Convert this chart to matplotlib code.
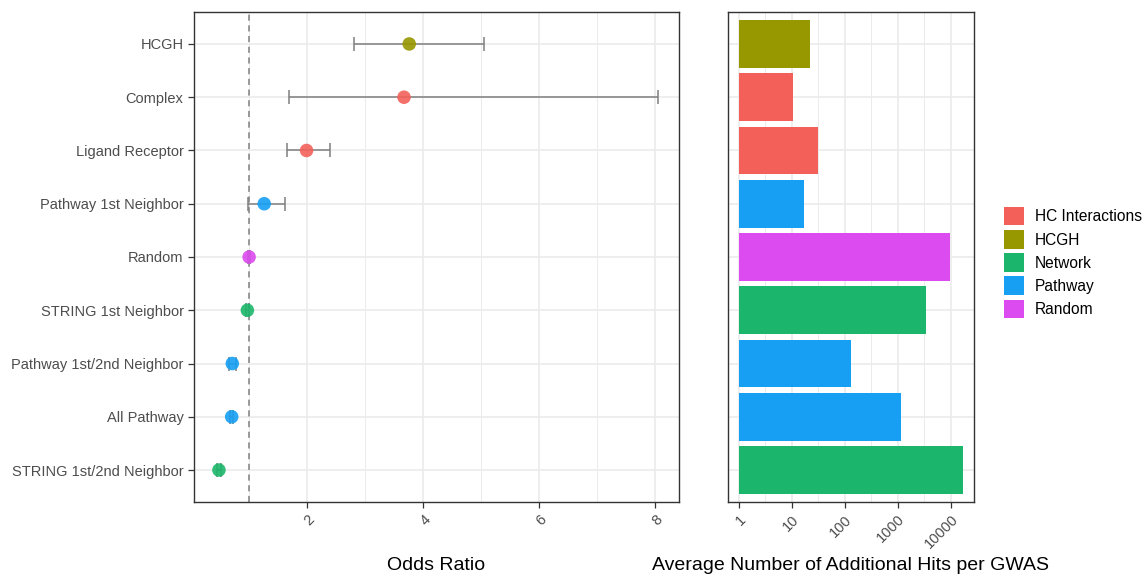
import numpy as np
import matplotlib
matplotlib.use('Agg')
import matplotlib.pyplot as plt
from matplotlib.patches import Patch
from matplotlib.ticker import FixedLocator

plt.rcParams['font.family'] = ['Liberation Sans', 'DejaVu Sans']

# data, top row first
labels = ['HCGH', 'Complex', 'Ligand Receptor', 'Pathway 1st Neighbor', 'Random',
          'STRING 1st Neighbor', 'Pathway 1st/2nd Neighbor', 'All Pathway',
          'STRING 1st/2nd Neighbor']
groups = ['HCGH', 'HC Interactions', 'HC Interactions', 'Pathway', 'Random',
          'Network', 'Pathway', 'Pathway', 'Network']
odds = [3.76, 3.67, 1.99, 1.26, 1.00, 0.97, 0.71, 0.70, 0.48]
ci_low = [2.81, 1.68, 1.66, 0.98, 0.98, 0.95, 0.66, 0.67, 0.45]
ci_high = [5.05, 8.05, 2.40, 1.62, 1.02, 0.99, 0.78, 0.73, 0.52]
hits = [21.8, 10.4, 30.8, 16.7, 9840, 3410, 131, 1164, 17330]

legend_order = ['HC Interactions', 'HCGH', 'Network', 'Pathway', 'Random']
colors = {'HC Interactions': '#F3605A', 'HCGH': '#979700', 'Network': '#1BB66B',
          'Pathway': '#169FF3', 'Random': '#DB4BEF'}

W, H = 1144, 574
fig = plt.figure(figsize=(W / 100, H / 100), dpi=100)

def px_axes(x0, y0, x1, y1):
    return fig.add_axes([x0 / W, 1 - y1 / H, (x1 - x0) / W, (y1 - y0) / H])

ax1 = px_axes(194, 12, 679, 502)
ax2 = px_axes(728, 12, 974, 502)

n = len(labels)
ypos = np.arange(n)[::-1] + 1
cols = [colors[g] for g in groups]

def style(ax):
    for s in ax.spines.values():
        s.set_color('#333333')
        s.set_linewidth(1.0)
    ax.set_axisbelow(True)
    ax.grid(which='major', color='#EBEBEB', linewidth=1.2)
    ax.grid(which='minor', color='#EBEBEB', linewidth=0.7)
    ax.tick_params(colors='#333333', labelcolor='#4D4D4D', labelsize=10.5, length=4, width=0.9)
    ax.tick_params(which='minor', length=0)
    ax.set_ylim(0.4, n + 0.6)
    ax.set_yticks(ypos)

# left: odds ratio
style(ax1)
ax1.set_xlim(0.05, 8.41)
ax1.set_xticks([2, 4, 6, 8])
ax1.xaxis.set_minor_locator(FixedLocator([1, 3, 5, 7]))
ax1.set_yticklabels(labels, fontsize=10.5)
ax1.axvline(1, color='#7F7F7F', linestyle=(0, (4, 3)), linewidth=1.1, zorder=2)
ax1.errorbar(odds, ypos, xerr=[np.array(odds) - np.array(ci_low), np.array(ci_high) - np.array(odds)],
             fmt='none', ecolor='#7F7F7F', elinewidth=1.1, capsize=5, capthick=1.1, zorder=3)
ax1.scatter(odds, ypos, s=95, c=cols, edgecolors='none', alpha=0.9, zorder=4)
for t in ax1.get_xticklabels():
    t.set_rotation(45)
    t.set_ha('right')
    t.set_rotation_mode('anchor')

# right: additional hits, log scale
style(ax2)
ax2.set_xscale('log')
ax2.set_xlim(10 ** -0.208, 10 ** 4.44)
ax2.barh(ypos, np.array(hits) - 1, left=1, height=0.9, color=cols, zorder=3)
ax2.xaxis.set_major_locator(FixedLocator([1, 10, 100, 1000, 10000]))
ax2.xaxis.set_minor_locator(FixedLocator([10 ** (k + 0.5) for k in range(5)]))
ax2.set_xticklabels(['1', '10', '100', '1000', '10000'])
ax2.tick_params(axis='y', length=0, labelleft=False)
for t in ax2.get_xticklabels():
    t.set_rotation(45)
    t.set_ha('right')
    t.set_rotation_mode('anchor')

fig.text(436 / W, 1 - 566 / H, 'Odds Ratio', ha='center', va='center', fontsize=14, color='black')
fig.text(851 / W, 1 - 566 / H, 'Average Number of Additional Hits per GWAS', ha='center', va='center',
         fontsize=14, color='black')

handles = [Patch(facecolor=colors[g], edgecolor='none') for g in legend_order]
fig.legend(handles, legend_order, loc='upper left', bbox_to_anchor=(1004 / W, 1 - 207 / H),
           frameon=False, fontsize=11.2, handlelength=1.3, handleheight=1.45,
           labelspacing=0.3, handletextpad=0.7, borderpad=0, borderaxespad=0)

fig.savefig('out.png', dpi=100)
